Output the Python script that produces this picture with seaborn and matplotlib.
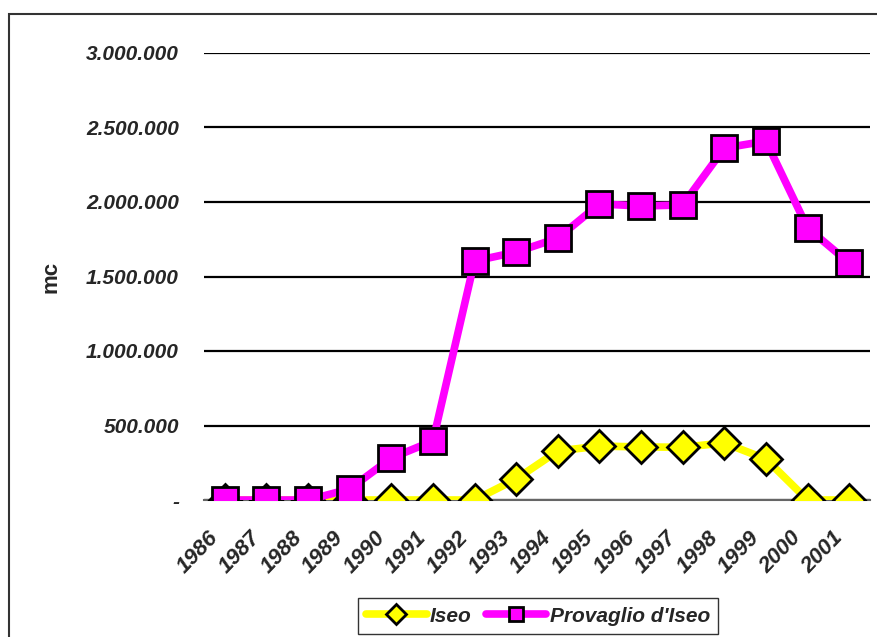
import matplotlib
matplotlib.use("Agg")
import matplotlib.pyplot as plt
import matplotlib.ticker as mticker
import matplotlib.transforms as mtransforms
from matplotlib.patches import Rectangle
import seaborn as sns
import pandas as pd
import numpy as np

years = ["1986", "1987", "1988", "1989", "1990", "1991", "1992", "1993",
         "1994", "1995", "1996", "1997", "1998", "1999", "2000", "2001"]
iseo = [0, 0, 0, 0, 0, 0, 0, 141000, 329000, 362000, 356000, 354000,
        383000, 275000, 0, 0]
provaglio = [0, 0, 0, 74000, 282000, 396000, 1604000, 1664000, 1758000,
             1987000, 1973000, 1980000, 2362000, 2409000, 1826000, 1591000]

sns.set_style("white")
plt.rcParams["font.family"] = ["Liberation Sans", "DejaVu Sans"]

fig = plt.figure(figsize=(8.77, 6.37), dpi=100)
ax = fig.add_axes([204 / 877, 137 / 637, 666 / 877, 447 / 637])

pos = np.arange(len(years))
df = pd.DataFrame({"pos": pos, "Iseo": iseo, "Provaglio d'Iseo": provaglio})

sns.lineplot(data=df, x="pos", y="Iseo", ax=ax, color="#FFFF00", lw=5.5,
             marker="D", markersize=16, markerfacecolor="#FFFF00",
             markeredgecolor="black", markeredgewidth=2, label="Iseo",
             zorder=3)
sns.lineplot(data=df, x="pos", y="Provaglio d'Iseo", ax=ax, color="#FF00FF",
             lw=5.5, marker="s", markersize=18.5, markerfacecolor="#FF00FF",
             markeredgecolor="black", markeredgewidth=2,
             label="Provaglio d'Iseo", zorder=4)

ax.set_xlim(-0.5, len(years) - 0.5)
ax.set_ylim(0, 3000000)
ax.set_yticks(np.arange(0, 3000001, 500000))

def fmt(v, _):
    if v == 0:
        return "-"
    return f"{int(v):,}".replace(",", ".")

ax.yaxis.set_major_formatter(mticker.FuncFormatter(fmt))
ax.yaxis.grid(True, color="black", lw=1.6)
ax.xaxis.grid(False)
ax.set_axisbelow(True)
for s in ["top", "right", "left"]:
    ax.spines[s].set_visible(False)
ax.spines["bottom"].set_color("#666666")
ax.spines["bottom"].set_linewidth(1.5)
ax.spines["bottom"].set_zorder(2)

ax.set_xticks(pos)
ax.set_xticklabels(years, rotation=46, ha="right", rotation_mode="anchor")
ax.set_xticks(np.arange(-0.5, len(years)), minor=True)
ax.tick_params(axis="x", which="major", length=0, pad=20)
ax.tick_params(axis="x", which="minor", length=6, width=1.2, color="#555555",
               direction="out")
ax.tick_params(axis="y", length=0, pad=18)
shift = mtransforms.ScaledTranslation(-17 / 100, 0, fig.dpi_scale_trans)
for lab in ax.get_xticklabels():
    lab.set_transform(lab.get_transform() + shift)
    lab.set_fontsize(16)
for lab in ax.get_yticklabels():
    lab.set_fontsize(15)
for lab in ax.get_xticklabels() + ax.get_yticklabels():
    lab.set_fontweight("bold")
    lab.set_fontstyle("italic")

ax.set_xlabel("")
ax.set_ylabel("mc", fontsize=16, fontweight="bold")
ax.yaxis.set_label_coords(-143 / 666, 0.5)

leg = ax.legend(loc="lower center", bbox_to_anchor=(538 / 877, 3 / 637),
                bbox_transform=fig.transFigure, ncol=2, frameon=True,
                fancybox=False, edgecolor="black", handlelength=2.9,
                handletextpad=0.15, columnspacing=0.7, borderpad=0.4,
                borderaxespad=0,
                prop={"weight": "bold", "style": "italic", "size": 15})
leg.get_frame().set_linewidth(1.0)
for h in leg.legend_handles:
    h.set_markersize(10)

fig.patches.append(Rectangle((9 / 877, -0.1), 1.2, (637 - 14) / 637 + 0.1,
                             transform=fig.transFigure, fill=False,
                             edgecolor="#333333", lw=1.5))

fig.savefig("out.png", dpi=100)
